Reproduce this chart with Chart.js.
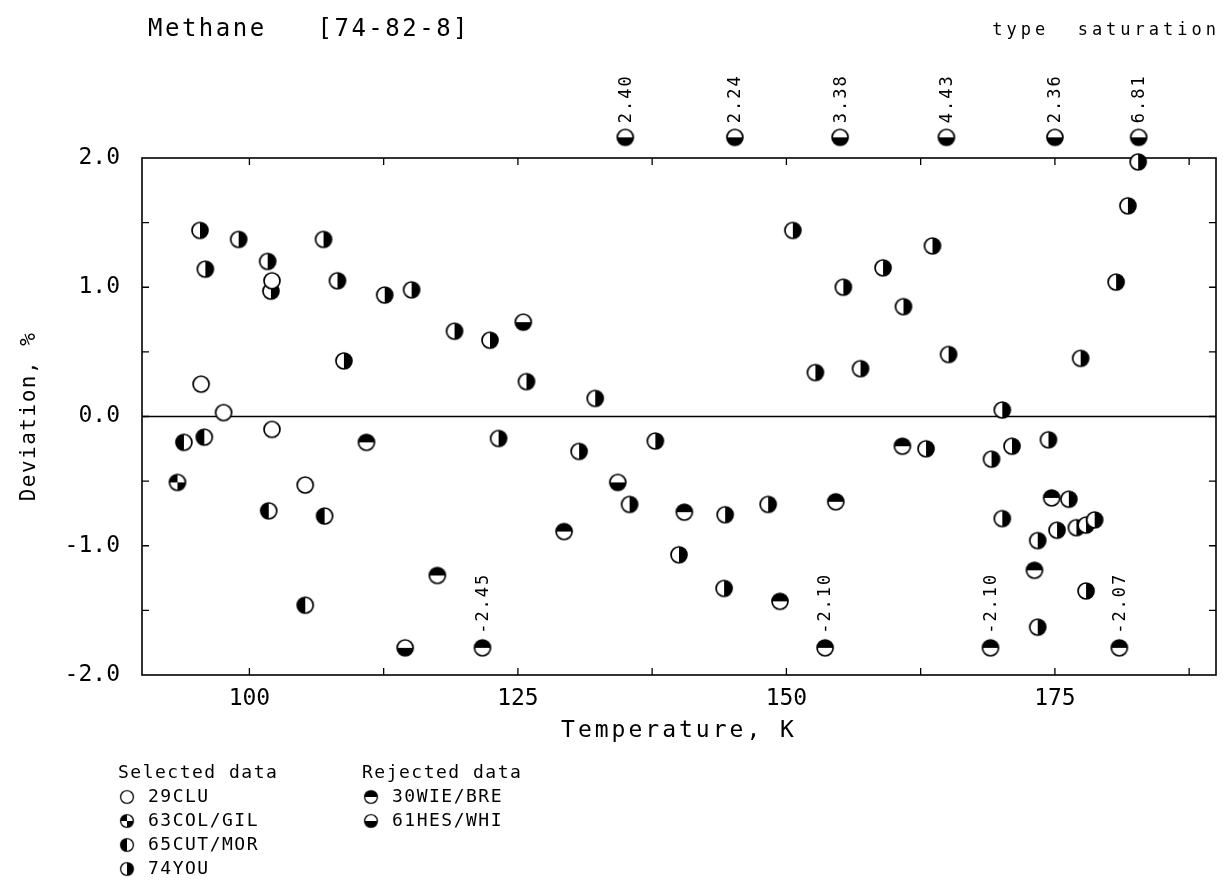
<!DOCTYPE html>
<html>
<head>
<meta charset="utf-8">
<script src="https://cdn.jsdelivr.net/npm/chart.js@4.4.1/dist/chart.umd.min.js"></script>
<style>
  html, body { margin: 0; padding: 0; background: #fff; }
  #wrap { width: 1225px; height: 884px; }
</style>
</head>
<body>
<div id="wrap"><canvas id="chart" width="1225" height="884"></canvas></div>
<script>
const MONO = '"DejaVu Sans Mono", "Liberation Mono", monospace';

// temperature (K) and deviation (%) per source
const cluT = [95.5, 97.6, 102.1, 102.1, 105.2];
const cluD = [0.25, 0.03, 1.05, -0.10, -0.53];

const colT = [93.3];
const colD = [-0.51];

const cutT = [93.9, 95.8, 101.8, 107.0, 105.2];
const cutD = [-0.20, -0.16, -0.73, -0.77, -1.46];

const youT = [95.4, 99.0, 95.9, 101.7, 102.0, 106.9, 108.2, 112.6, 115.1, 119.1, 108.8, 122.4,
              125.8, 132.2, 123.2, 130.7, 137.8, 135.4, 144.3, 148.3, 140.0, 144.2, 150.6, 155.3,
              152.7, 156.9, 159.0, 160.9, 163.6, 165.1, 170.1, 177.4, 180.7, 181.8, 182.75, 163.0,
              169.1, 171.0, 174.4, 176.3, 170.1, 175.2, 173.4, 177.0, 177.9, 178.7, 177.9, 173.4];
const youD = [1.44, 1.37, 1.14, 1.20, 0.97, 1.37, 1.05, 0.94, 0.98, 0.66, 0.43, 0.59,
              0.27, 0.14, -0.17, -0.27, -0.19, -0.68, -0.76, -0.68, -1.07, -1.33, 1.44, 1.00,
              0.34, 0.37, 1.15, 0.85, 1.32, 0.48, 0.05, 0.45, 1.04, 1.63, 1.97, -0.25,
              -0.33, -0.23, -0.18, -0.64, -0.79, -0.88, -0.96, -0.86, -0.84, -0.80, -1.35, -1.63];

const wieT = [110.9, 117.5, 129.3, 140.5, 149.4, 154.6, 160.8, 173.1, 174.7, 121.7, 153.6, 169.0, 181.0];
const wieD = [-0.20, -1.23, -0.89, -0.74, -1.43, -0.66, -0.23, -1.19, -0.63, -2.45, -2.10, -2.10, -2.07];

const hesT = [125.5, 114.5, 134.3, 135.0, 145.2, 155.0, 164.9, 175.0, 182.8];
const hesD = [0.73, -1.79, -0.51, 2.40, 2.24, 3.38, 4.43, 2.36, 6.81];

const xTickMarks = [100, 112.5, 125, 137.5, 150, 162.5, 175, 187.5];
const xTickLabels = [100, 125, 150, 175];
const yTickMarks = [-1.5, -1, -0.5, 0, 0.5, 1, 1.5];
const yTickLabels = [2, 1, 0, -1, -2];

// points beyond the axis range are parked at these levels and labelled with their value
const OFF_HI = 2.16, OFF_LO = -1.79;

function plotY(v) {
  if (v > 2) return OFF_HI;
  if (v < -2) return OFF_LO;
  return v;
}

function makeMarker(kind) {
  const c = document.createElement('canvas');
  c.width = 20; c.height = 20;
  const g = c.getContext('2d');
  const cx = 10, cy = 10, r = 8;
  g.fillStyle = '#fff';
  g.beginPath(); g.arc(cx, cy, r, 0, 2 * Math.PI); g.fill();
  g.fillStyle = '#000';
  const wedge = (a0, a1) => {
    g.beginPath(); g.moveTo(cx, cy); g.arc(cx, cy, r, a0, a1); g.closePath(); g.fill();
  };
  if (kind === 'left') wedge(Math.PI / 2, 3 * Math.PI / 2);
  if (kind === 'right') wedge(-Math.PI / 2, Math.PI / 2);
  if (kind === 'top') wedge(Math.PI, 2 * Math.PI);
  if (kind === 'bottom') wedge(0, Math.PI);
  if (kind === 'quarter') { wedge(Math.PI, 1.5 * Math.PI); wedge(0, 0.5 * Math.PI); }
  g.lineWidth = 1.7;
  g.strokeStyle = '#000';
  g.beginPath(); g.arc(cx, cy, r, 0, 2 * Math.PI); g.stroke();
  return c;
}

const series = [
  { name: '29CLU',     T: cluT, D: cluD, kind: 'open',    group: 0 },
  { name: '63COL/GIL', T: colT, D: colD, kind: 'quarter', group: 0 },
  { name: '65CUT/MOR', T: cutT, D: cutD, kind: 'left',    group: 0 },
  { name: '74YOU',     T: youT, D: youD, kind: 'right',   group: 0 },
  { name: '30WIE/BRE', T: wieT, D: wieD, kind: 'top',     group: 1 },
  { name: '61HES/WHI', T: hesT, D: hesD, kind: 'bottom',  group: 1 }
];
series.forEach(s => { s.marker = makeMarker(s.kind); });

const datasets = series.map(s => ({
  label: s.name,
  data: s.T.map((t, i) => ({ x: t, y: plotY(s.D[i]), v: s.D[i] })),
  pointStyle: s.marker,
  pointRadius: 8,
  showLine: false,
  clip: false
}));

function drawText(ctx, text, x, y, size, opts) {
  opts = opts || {};
  ctx.save();
  ctx.font = size + 'px ' + MONO;
  ctx.letterSpacing = (opts.spacing || 0) + 'px';
  ctx.fillStyle = '#000';
  ctx.textAlign = opts.align || 'left';
  ctx.textBaseline = 'middle';
  ctx.translate(x, y);
  if (opts.rotate) ctx.rotate(opts.rotate);
  ctx.fillText(text, 0, 0);
  ctx.restore();
}

const framePlugin = {
  id: 'frame',
  beforeDraw(chart) {
    const ctx = chart.ctx;
    ctx.save();
    ctx.fillStyle = '#fff';
    ctx.fillRect(0, 0, chart.width, chart.height);
    ctx.restore();
  },
  beforeDatasetsDraw(chart) {
    const { ctx, chartArea: a, scales: { x, y } } = chart;
    ctx.save();
    ctx.strokeStyle = '#000';
    ctx.lineWidth = 1.6;
    ctx.strokeRect(a.left, a.top, a.right - a.left, a.bottom - a.top);
    // zero line
    ctx.beginPath();
    ctx.moveTo(a.left, y.getPixelForValue(0));
    ctx.lineTo(a.right, y.getPixelForValue(0));
    ctx.stroke();
    // inward ticks on all four sides
    const L = 7;
    ctx.lineWidth = 1.3;
    ctx.beginPath();
    xTickMarks.forEach(v => {
      const px = x.getPixelForValue(v);
      ctx.moveTo(px, a.bottom); ctx.lineTo(px, a.bottom - L);
      ctx.moveTo(px, a.top); ctx.lineTo(px, a.top + L);
    });
    yTickMarks.forEach(v => {
      const py = y.getPixelForValue(v);
      ctx.moveTo(a.left, py); ctx.lineTo(a.left + L, py);
      ctx.moveTo(a.right, py); ctx.lineTo(a.right - L, py);
    });
    ctx.stroke();
    ctx.restore();
  },
  afterDatasetsDraw(chart) {
    // chart.js skips points outside the chart area; the high off-scale ones sit above it
    const a = chart.chartArea;
    const whole = { left: 0, top: 0, right: chart.width, bottom: chart.height };
    chart.data.datasets.forEach((ds, i) => {
      chart.getDatasetMeta(i).data.forEach(el => {
        if (el.y < a.top - 4) el.draw(chart.ctx, whole);
      });
    });
  },
  afterDraw(chart) {
    const { ctx, chartArea: a, scales: { x, y } } = chart;
    drawText(ctx, 'Methane   [74-82-8]', 148, 30, 24, { spacing: 2.5 });
    drawText(ctx, 'type  saturation', 1220, 31, 17, { spacing: 4, align: 'right' });
    drawText(ctx, 'Temperature, K', (a.left + a.right) / 2, 731, 23, { spacing: 3, align: 'center' });
    drawText(ctx, 'Deviation, %', 30, (a.top + a.bottom) / 2, 21, { spacing: 1.5, align: 'center', rotate: -Math.PI / 2 });

    // values of the off-scale points, written upward above the marker
    chart.data.datasets.forEach(ds => {
      ds.data.forEach(p => {
        if (p.v <= 2 && p.v >= -2) return;
        const px = x.getPixelForValue(p.x);
        const py = y.getPixelForValue(p.y);
        drawText(ctx, p.v.toFixed(2), px + 1, py - 14, 17, { spacing: 2, rotate: -Math.PI / 2 });
      });
    });

    // legend: two groups
    const heads = ['Selected data', 'Rejected data'];
    const colX = [118, 362];
    const rowY = [797, 821, 845, 869];
    heads.forEach((h, gi) => drawText(ctx, h, colX[gi], 773, 18, { spacing: 1.5 }));
    const counts = [0, 0];
    series.forEach(s => {
      const r = counts[s.group]++;
      const cx = colX[s.group] + 9, cy = rowY[r];
      ctx.drawImage(s.marker, cx - 8, cy - 8, 16, 16);
      drawText(ctx, s.name, colX[s.group] + 30, cy, 18, { spacing: 1.5 });
    });
  }
};

new Chart(document.getElementById('chart'), {
  type: 'scatter',
  data: { datasets },
  options: {
    responsive: false,
    animation: false,
    layout: { padding: { left: 12, right: 7, top: 158, bottom: 884 - 675 - 40 } },
    plugins: { legend: { display: false }, tooltip: { enabled: false } },
    scales: {
      x: {
        type: 'linear', min: 90, max: 190,
        afterBuildTicks: s => { s.ticks = xTickLabels.map(v => ({ value: v })); },
        afterFit: s => { s.height = 40; },
        grid: { display: false, drawTicks: false },
        border: { display: false },
        ticks: { color: '#000', padding: 10, font: { family: MONO, size: 23 }, callback: v => String(v) }
      },
      y: {
        type: 'linear', min: -2, max: 2,
        afterBuildTicks: s => { s.ticks = yTickLabels.map(v => ({ value: v })); },
        afterFit: s => { s.width = 130; },
        grid: { display: false, drawTicks: false },
        border: { display: false },
        ticks: { color: '#000', padding: 22, font: { family: MONO, size: 23 }, callback: v => v.toFixed(1) }
      }
    }
  },
  plugins: [framePlugin]
});
</script>
</body>
</html>
